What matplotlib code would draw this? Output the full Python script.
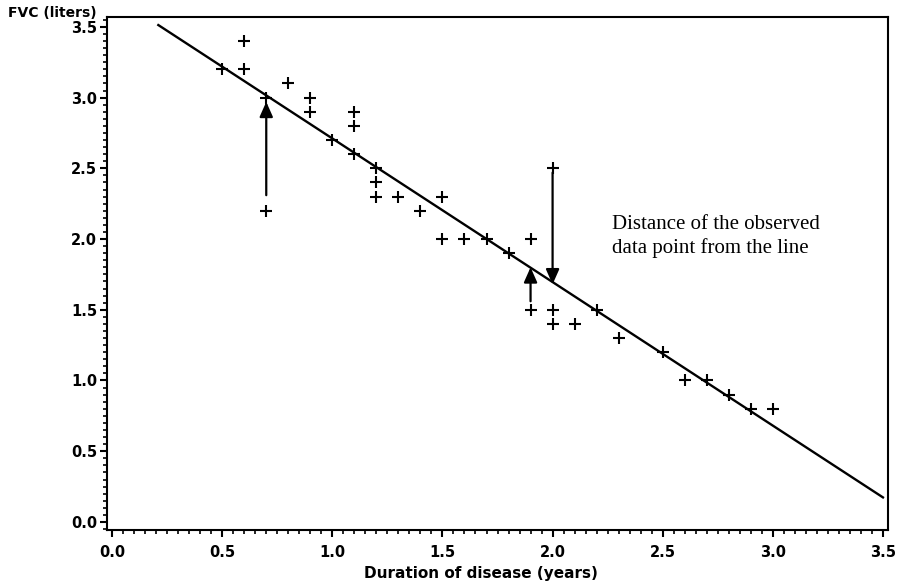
import numpy as np
from matplotlib import pyplot as plt
from matplotlib.ticker import MultipleLocator

# datos observados (duracion de la enfermedad, FVC)
duracion = [0.5, 0.6, 0.6, 0.7, 0.7, 0.8, 0.9, 0.9, 1.0, 1.1, 1.1, 1.1,
            1.2, 1.2, 1.2, 1.3, 1.4, 1.5, 1.5, 1.6, 1.7, 1.8, 1.9, 1.9,
            2.0, 2.0, 2.0, 2.1, 2.2, 2.3, 2.5, 2.6, 2.7, 2.8, 2.9, 3.0]
fvc = [3.2, 3.4, 3.2, 3.0, 2.2, 3.1, 3.0, 2.9, 2.7, 2.9, 2.8, 2.6,
       2.5, 2.4, 2.3, 2.3, 2.2, 2.3, 2.0, 2.0, 2.0, 1.9, 2.0, 1.5,
       2.5, 1.5, 1.4, 1.4, 1.5, 1.3, 1.2, 1.0, 1.0, 0.9, 0.8, 0.8]

# recta de regresion
intercepto = 3.726
pendiente = -1.015
recta_x = [0.21, 3.5]

# flechas: (x, y inicio, y fin)
flechas = [(0.7, 2.31, 2.97), (2.0, 2.47, 1.68), (1.9, 1.56, 1.80)]

fig = plt.figure(figsize=(8.97, 5.85), dpi=100)
ax = fig.add_axes([0.1193, 0.094, 0.8707, 0.877])

rx = np.array(recta_x)
ax.plot(rx, intercepto + pendiente * rx, color="black", lw=1.7)
ax.plot(duracion, fvc, linestyle="none", marker="+", ms=9, mew=1.5,
        color="black")

for x, y0, y1 in flechas:
    ax.annotate("", xy=(x, y1), xytext=(x, y0),
                arrowprops=dict(arrowstyle="-|>,head_length=0.9,head_width=0.4",
                                color="black", lw=1.6, shrinkA=0, shrinkB=0))

ax.text(2.27, 2.02, "Distance of the observed\ndata point from the line",
        family="Liberation Serif", fontsize=15, va="center", ha="left",
        linespacing=1.3)

ax.set_xlim(-0.023, 3.523)
ax.set_ylim(-0.057, 3.57)
ax.xaxis.set_major_locator(MultipleLocator(0.5))
ax.xaxis.set_minor_locator(MultipleLocator(0.05))
ax.yaxis.set_major_locator(MultipleLocator(0.5))
ax.yaxis.set_minor_locator(MultipleLocator(0.05))
ax.tick_params(which="major", direction="out", length=5, width=1.5,
               labelsize=10.5)
ax.tick_params(axis="x", which="major", pad=6)
ax.tick_params(axis="y", which="major", pad=2)
ax.tick_params(which="minor", direction="out", length=3, width=1.2)
for lab in ax.get_xticklabels() + ax.get_yticklabels():
    lab.set_fontweight("bold")
    lab.set_family("DejaVu Sans")
for s in ax.spines.values():
    s.set_linewidth(1.5)

fig.text(0.536, 0.0205, "Duration of disease (years)", fontsize=11,
         fontweight="bold", family="DejaVu Sans", ha="center", va="center")
fig.text(0.009, 0.978, "FVC (liters)", fontsize=10, fontweight="bold",
         family="DejaVu Sans", ha="left", va="center")

fig.savefig("out.png", dpi=100)
